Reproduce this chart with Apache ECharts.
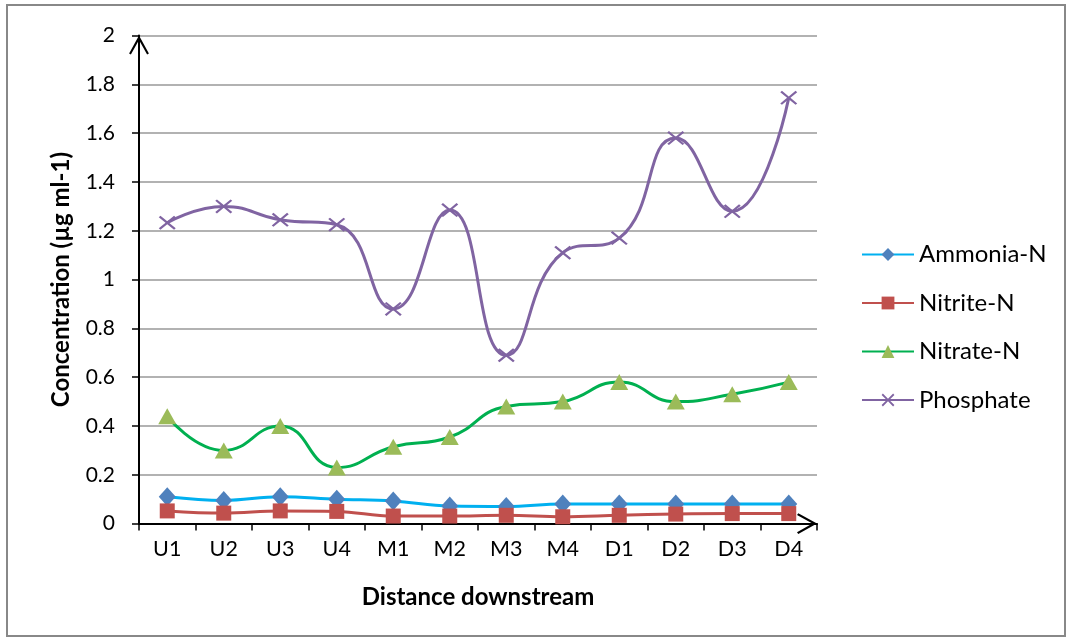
<!DOCTYPE html>
<html>
<head>
<meta charset="utf-8">
<script src="https://cdn.jsdelivr.net/npm/echarts@6/dist/echarts.min.js"></script>
<style>
html,body{margin:0;padding:0;background:#fff;}
#main{width:1072px;height:641px;}
</style>
</head>
<body>
<div id="main"></div>
<script>
// 采样点
var sites = ['U1','U2','U3','U4','M1','M2','M3','M4','D1','D2','D3','D4'];
var ammonia = [0.11,0.095,0.11,0.10,0.093,0.072,0.07,0.08,0.08,0.08,0.08,0.08];
var nitrite = [0.052,0.043,0.052,0.05,0.031,0.031,0.034,0.028,0.034,0.039,0.041,0.041];
var nitrate = [0.44,0.30,0.40,0.23,0.315,0.355,0.48,0.50,0.58,0.50,0.53,0.58];
var phosphate = [1.233,1.30,1.245,1.225,0.88,1.285,0.69,1.11,1.17,1.58,1.28,1.745];
var yTicks = ['0','0.2','0.4','0.6','0.8','1','1.2','1.4','1.6','1.8','2'];

var font = 'Lato, "Open Sans", sans-serif';
// 开口箭头
var chevron = 'path://M0,90 L50,0 L100,90 L91,96 L50,22 L9,96 Z';
var cross = 'path://M0,1 L1,0 L5,4 L9,0 L10,1 L6,5 L10,9 L9,10 L5,6 L1,10 L0,9 L4,5 Z';

var chart = echarts.init(document.getElementById('main'));
var option = {
    backgroundColor: '#fff',
    animation: false,
    textStyle: {fontFamily: font},
    graphic: [{
        type: 'rect',
        shape: {x: 7, y: 5, width: 1058, height: 631},
        style: {fill: 'none', stroke: '#888', lineWidth: 2},
        silent: true
    }],
    grid: {left: 139, top: 35.6, right: 255, bottom: 117.4},
    legend: {
        orient: 'vertical',
        left: 856,
        top: 237,
        itemWidth: 52,
        itemHeight: 16,
        itemGap: 23.5,
        textStyle: {fontFamily: font, fontSize: 24, lineHeight: 25, color: '#000', padding: [0,0,0,0]},
        data: ['Ammonia-N','Nitrite-N','Nitrate-N','Phosphate']
    },
    xAxis: {
        type: 'category',
        data: sites,
        boundaryGap: true,
        name: 'Distance downstream',
        nameLocation: 'middle',
        nameGap: 62,
        nameTextStyle: {fontFamily: font, fontSize: 24, fontWeight: 'bold', color: '#000'},
        axisLine: {lineStyle: {color: '#000', width: 2}, symbol: ['none', chevron], symbolSize: [22, 20], symbolOffset: [0, -10]},
        axisTick: {show: true, length: 7, lineStyle: {color: '#000', width: 1.5}},
        axisLabel: {fontFamily: font, fontSize: 21.5, color: '#000', margin: 14},
        splitLine: {show: false}
    },
    yAxis: {
        type: 'value',
        min: 0,
        max: 2,
        interval: 0.2,
        name: 'Concentration (µg ml-1)',
        nameLocation: 'middle',
        nameGap: 66,
        nameTextStyle: {fontFamily: font, fontSize: 24, fontWeight: 'bold', color: '#000'},
        axisLine: {show: true, lineStyle: {color: '#000', width: 2}, symbol: ['none', chevron], symbolSize: [20, 19], symbolOffset: [0, -9.5]},
        axisTick: {show: true, length: 7, lineStyle: {color: '#000', width: 1.5}},
        axisLabel: {
            fontFamily: font, fontSize: 21, color: '#000', margin: 24,
            formatter: function (v) { return yTicks[Math.round(v / 0.2)]; }
        },
        splitLine: {show: true, lineStyle: {color: '#999', width: 1.5}}
    },
    series: [
        {
            name: 'Ammonia-N', type: 'line', data: ammonia, smooth: 0.4,
            symbol: 'diamond', symbolSize: [17, 19],
            lineStyle: {color: '#00B0F0', width: 3},
            itemStyle: {color: '#4F81BD'}
        },
        {
            name: 'Nitrite-N', type: 'line', data: nitrite, smooth: 0.4,
            symbol: 'rect', symbolSize: 15,
            lineStyle: {color: '#C0504D', width: 3},
            itemStyle: {color: '#C0504D'}
        },
        {
            name: 'Nitrate-N', type: 'line', data: nitrate, smooth: 0.5,
            symbol: 'triangle', symbolSize: [18, 16],
            lineStyle: {color: '#00B050', width: 3},
            itemStyle: {color: '#9BBB59'}
        },
        {
            name: 'Phosphate', type: 'line', data: phosphate, smooth: 0.5,
            symbol: cross, symbolSize: [17, 14],
            lineStyle: {color: '#8064A2', width: 3},
            itemStyle: {color: '#8064A2'}
        }
    ]
};
chart.setOption(option);
</script>
</body>
</html>
